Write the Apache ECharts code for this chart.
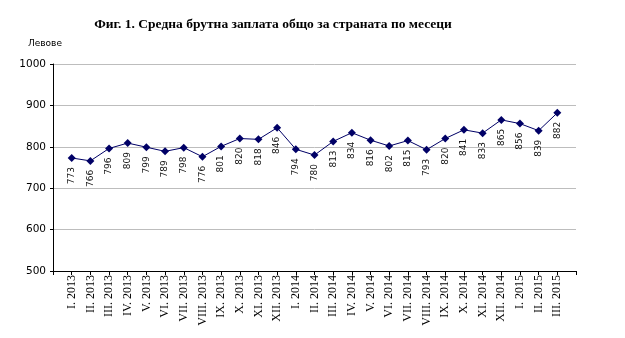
<!DOCTYPE html>
<html>
<head>
<meta charset="utf-8">
<script src="https://cdn.jsdelivr.net/npm/echarts@6/dist/echarts.min.js"></script>
<style>
  html, body { margin: 0; padding: 0; background: #fff; }
  #chart { width: 625px; height: 338px; }
</style>
</head>
<body>
<div id="chart"></div>
<script>
// Months, January 2013 – March 2015
const months = [
  'I. 2013', 'II. 2013', 'III. 2013', 'IV. 2013', 'V. 2013', 'VI. 2013',
  'VII. 2013', 'VIII. 2013', 'IX. 2013', 'X. 2013', 'XI. 2013', 'XII. 2013',
  'I. 2014', 'II. 2014', 'III. 2014', 'IV. 2014', 'V. 2014', 'VI. 2014',
  'VII. 2014', 'VIII. 2014', 'IX. 2014', 'X. 2014', 'XI. 2014', 'XII. 2014',
  'I. 2015', 'II. 2015', 'III. 2015'
];

// Average gross wage, leva
const wages = [
  773, 766, 796, 809, 799, 789, 798, 776, 801, 820, 818, 846,
  794, 780, 813, 834, 816, 802, 815, 793, 820, 841, 833, 865,
  856, 839, 882
];

const yTicks = [500, 600, 700, 800, 900, 1000];

// empty slot at each end of the axis so the points sit inside the frame
const cats = [''].concat(months, ['']);
const vals = [null].concat(wages, [null]);

const chart = echarts.init(document.getElementById('chart'), null, { renderer: 'canvas' });

chart.setOption({
  animation: false,
  backgroundColor: '#ffffff',
  title: [
    {
      text: 'Фиг. 1. Средна брутна заплата общо за страната по месеци',
      left: 268, top: 13, textAlign: 'center',
      textStyle: { fontFamily: 'Liberation Serif', fontSize: 13.5, fontWeight: 'bold', color: '#000' }
    },
    {
      text: 'Левове',
      left: 23, top: 34,
      textStyle: { fontFamily: 'DejaVu Sans', fontSize: 9, fontWeight: 'normal', color: '#000' }
    }
  ],
  grid: { left: 53, right: 49, top: 64, bottom: 67, containLabel: false },
  xAxis: {
    type: 'category',
    data: cats,
    boundaryGap: false,
    axisLine: { show: true, lineStyle: { color: '#000', width: 1 } },
    axisTick: { show: true, length: 4, lineStyle: { color: '#000' }, interval: 0 },
    axisLabel: {
      interval: 0, rotate: 90, margin: 4,
      fontFamily: 'Liberation Serif', fontSize: 12, color: '#000'
    },
    splitLine: { show: false }
  },
  yAxis: {
    type: 'value',
    min: yTicks[0], max: yTicks[yTicks.length - 1], interval: 100,
    axisLine: { show: true, lineStyle: { color: '#000', width: 1 } },
    axisTick: { show: true, length: 3, lineStyle: { color: '#000' } },
    axisLabel: {
      margin: 7, fontFamily: 'DejaVu Sans', fontSize: 10.5, color: '#000',
      formatter: v => String(v)
    },
    splitLine: { show: true, lineStyle: { color: '#bdbdbd', width: 1 } }
  },
  series: [{
    type: 'line',
    data: vals,
    connectNulls: false,
    symbol: 'diamond',
    symbolSize: 8,
    itemStyle: { color: '#000066' },
    lineStyle: { color: '#000066', width: 1 },
    label: {
      show: true,
      position: 'bottom',
      distance: 5,
      rotate: 90,
      align: 'right',
      verticalAlign: 'middle',
      fontFamily: 'DejaVu Sans',
      fontSize: 9,
      color: '#111'
    }
  }]
});
</script>
</body>
</html>
